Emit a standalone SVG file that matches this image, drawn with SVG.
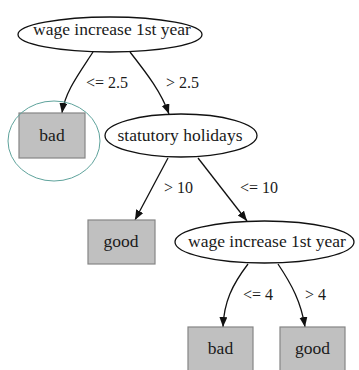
<svg xmlns="http://www.w3.org/2000/svg" width="359" height="370" viewBox="0 0 359 370">
<style>
.ell{fill:#fff;stroke:#111;stroke-width:1.3}
.box{fill:#c0c0c0;stroke:#858585;stroke-width:1.2}
.t{font-family:"Liberation Serif","Times New Roman",serif;font-size:17.5px;fill:#1a1a1a;text-anchor:middle}
.lbl{font-family:"Liberation Serif","Times New Roman",serif;font-size:16px;fill:#1a1a1a}
.edge{fill:none;stroke:#111;stroke-width:1.3;marker-end:url(#arr)}
</style>
<defs>
<marker id="arr" markerUnits="userSpaceOnUse" markerWidth="12" markerHeight="10" refX="10" refY="4" orient="auto">
<path d="M0,0 L10,4 L0,8 Z" fill="#111"/>
</marker>
</defs>
<rect width="359" height="370" fill="#fff"/>
<g id="connectors">
<path class="edge" d="M93,52 C78,75 65,92 62,113"/>
<path class="edge" d="M130,52 C148,75 161,92 169,114"/>
<path class="edge" d="M168,158 L135,220"/>
<path class="edge" d="M198,158 L247,221"/>
<path class="edge" d="M248,264 C232,285 224,302 223,327"/>
<path class="edge" d="M278,264 C292,285 301,302 305,327"/>
<text class="lbl" x="86" y="88">&lt;= 2.5</text>
<text class="lbl" x="166" y="88">&gt; 2.5</text>
<text class="lbl" x="164" y="193">&gt; 10</text>
<text class="lbl" x="240" y="193">&lt;= 10</text>
<text class="lbl" x="243" y="300">&lt;= 4</text>
<text class="lbl" x="305" y="300">&gt; 4</text>
</g>
<g id="n0">
<ellipse class="ell" cx="110" cy="34.5" rx="92" ry="17.5"/>
<text class="t" x="112" y="35">wage increase 1st year</text>
</g>
<g id="n1">
<rect class="box" x="19" y="113" width="66" height="45"/>
<text class="t" x="52" y="141">bad</text>
<ellipse cx="54" cy="141" rx="46" ry="40" fill="none" stroke="#5fa39c" stroke-width="1"/>
</g>
<g id="n2">
<ellipse class="ell" cx="181" cy="135.5" rx="76" ry="21.5"/>
<text class="t" x="180" y="141">statutory holidays</text>
</g>
<g id="n3">
<rect class="box" x="88" y="220" width="67" height="44"/>
<text class="t" x="121" y="247">good</text>
</g>
<g id="n4">
<ellipse class="ell" cx="264.5" cy="242" rx="89.5" ry="21"/>
<text class="t" x="267" y="247">wage increase 1st year</text>
</g>
<g id="n5">
<rect class="box" x="188" y="327" width="65" height="46"/>
<text class="t" x="220.5" y="354">bad</text>
</g>
<g id="n6">
<rect class="box" x="280" y="327" width="65" height="46"/>
<text class="t" x="312.5" y="354">good</text>
</g>
</svg>
